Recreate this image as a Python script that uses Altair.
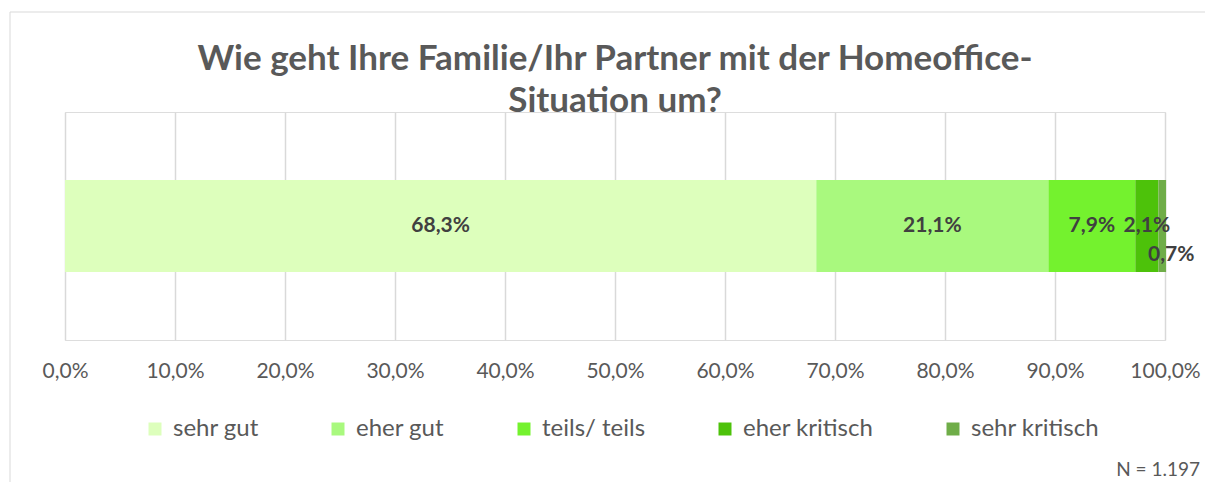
import altair as alt
import pandas as pd

title_lines = ["Wie geht Ihre Familie/Ihr Partner mit der Homeoffice-", "Situation um?"]
categories = ["sehr gut", "eher gut", "teils/ teils", "eher kritisch", "sehr kritisch"]
values = [68.3, 21.1, 7.9, 2.1, 0.7]
colors = ["#DDFFBC", "#A9F97E", "#74F22E", "#4DC20A", "#6FAD48"]
tick_values = [0, 10, 20, 30, 40, 50, 60, 70, 80, 90, 100]
note = "N = 1.197"

FONT = "Lato"
GREY = "#595959"

df = pd.DataFrame({"cat": categories, "value": values, "order": list(range(len(values))), "row": ["r"] * len(values)})

base = alt.Chart(df).transform_window(
    cum="sum(value)", sort=[alt.SortField("order")], frame=[None, 0]
).transform_calculate(
    start="datum.cum - datum.value",
    mid="datum.cum - datum.value / 2",
    label="replace(format(datum.value, '.1f'), '.', ',') + '%'",
)

xscale = alt.Scale(domain=[0, 100], nice=False, zero=True)
yscale = alt.Scale(paddingInner=0, paddingOuter=0.739)

bars = base.mark_bar().encode(
    x=alt.X("start:Q", scale=xscale, axis=alt.Axis(
        values=tick_values, title=None, domain=False, ticks=False,
        grid=True, gridColor="#D9D9D9", gridWidth=1.5, labelFlush=False,
        labelExpr="replace(format(datum.value, '.1f'), '.', ',') + '%'",
        labelFont=FONT, labelFontSize=21, labelColor=GREY, labelPadding=20,
    )),
    x2="cum:Q",
    y=alt.Y("row:N", axis=None, scale=yscale),
    color=alt.Color("cat:N", scale=alt.Scale(domain=categories, range=colors), legend=alt.Legend(
        title=None, orient="none", direction="horizontal", legendX=78, legendY=305,
        symbolType="square", symbolSize=169, symbolStrokeWidth=0, symbolOpacity=1,
        labelFont=FONT, labelFontSize=24, labelColor=GREY, labelOffset=6, columnPadding=67,
    )),
    order=alt.Order("order:Q"),
)

labels_main = base.transform_filter("datum.order < 4").mark_text(
    font=FONT, fontSize=21, fontWeight="bold", color="#404040"
).encode(x="mid:Q", y=alt.Y("row:N", scale=yscale), text="label:N")

labels_last = base.transform_filter("datum.order == 4").mark_text(
    font=FONT, fontSize=21, fontWeight="bold", color="#404040", dx=9, dy=29
).encode(x="mid:Q", y=alt.Y("row:N", scale=yscale), text="label:N")

frame_df = pd.DataFrame({"a": [0]})
border_top = alt.Chart(frame_df).mark_rule(stroke="#D9D9D9", strokeWidth=1).encode(
    x=alt.value(-55), x2=alt.value(1200), y=alt.value(-100)
)
border_left = alt.Chart(frame_df).mark_rule(stroke="#D9D9D9", strokeWidth=1).encode(
    x=alt.value(-55), y=alt.value(-100), y2=alt.value(420)
)

note_df = pd.DataFrame({"t": [note]})
note_text = alt.Chart(note_df).mark_text(
    align="right", baseline="middle", font=FONT, fontSize=19, color=GREY
).encode(x=alt.value(1135), y=alt.value(358), text="t:N")

chart = alt.layer(border_top, border_left, bars, labels_main, labels_last, note_text).properties(
    width=1100, height=228,
    title=alt.TitleParams(title_lines, anchor="middle", frame="group", font=FONT, fontSize=35,
                          fontWeight="bold", color=GREY, lineHeight=42, offset=-107.5),
    autosize=alt.AutoSizeParams(type="none"),
    padding={"left": 57, "top": 104, "right": 40, "bottom": 142},
).configure_view(stroke=None).configure(background="white")

chart.save("out.html", embed_options={"renderer": "svg", "actions": False})
